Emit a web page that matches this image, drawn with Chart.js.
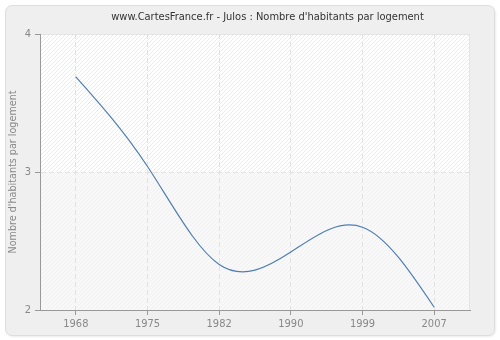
<!DOCTYPE html>
<html><head><meta charset="utf-8">
<script src="https://cdn.jsdelivr.net/npm/chart.js@4"></script>
<style>
html,body{margin:0;padding:0;background:#fff;width:500px;height:340px;overflow:hidden}
#panel{position:absolute;left:5px;top:5px;width:488px;height:329px;background:#efefef;border:1px solid #dedede;border-radius:7px;box-shadow:1px 1px 2px rgba(0,0,0,0.08)}
#wrap{position:absolute;left:0;top:0;width:500px;height:340px}
</style></head>
<body><div id="panel"></div><div id="wrap"><canvas id="c" width="500" height="340"></canvas></div>
<script>
const titleText = "www.CartesFrance.fr - Julos : Nombre d'habitants par logement";
const yAxisTitle = "Nombre d'habitants par logement";
const years = ["1968","1975","1982","1990","1999","2007"];
const values = [3.69, 3.04, 2.33, 2.42, 2.60, 2.02];
const yTicks = [2, 3, 4];
const FONT = '"DejaVu Sans Condensed", "DejaVu Sans", sans-serif';

function makePattern(bg, line){
  const p = document.createElement('canvas'); p.width = 4; p.height = 4;
  const g = p.getContext('2d');
  g.fillStyle = bg; g.fillRect(0,0,4,4);
  g.fillStyle = line;
  for(let i=0;i<4;i++){ g.fillRect(i, 3-i, 1, 1); }
  return g.createPattern(p, 'repeat');
}

// Natural cubic spline control points for the library's line element
const splinePlugin = {
  id:'naturalSpline',
  beforeDatasetsDraw(chart){
    chart.data.datasets.forEach((ds, di) => {
      const meta = chart.getDatasetMeta(di);
      const line = meta.dataset;
      if (!line) return;
      line.updateControlPoints(chart.chartArea, 'x');
      const pts = meta.data;
      const n = pts.length - 1;
      if (n < 2) return;
      const x = pts.map(p => p.x), y = pts.map(p => p.y);
      const h = []; for (let i=0;i<n;i++) h.push(x[i+1]-x[i]);
      const a=[], b=[], c=[], d=[];
      for (let i=1;i<n;i++){
        a.push(h[i-1]); b.push(2*(h[i-1]+h[i])); c.push(h[i]);
        d.push(6*((y[i+1]-y[i])/h[i] - (y[i]-y[i-1])/h[i-1]));
      }
      const m = a.length;
      for (let i=1;i<m;i++){ const w=a[i]/b[i-1]; b[i]-=w*c[i-1]; d[i]-=w*d[i-1]; }
      const Mi = new Array(m);
      Mi[m-1] = d[m-1]/b[m-1];
      for (let i=m-2;i>=0;i--) Mi[i] = (d[i]-c[i]*Mi[i+1])/b[i];
      const M = [0, ...Mi, 0];
      for (let i=0;i<n;i++){
        const s = (y[i+1]-y[i])/h[i];
        const d0 = s - h[i]*(2*M[i]+M[i+1])/6;
        const d1 = s + h[i]*(M[i]+2*M[i+1])/6;
        pts[i].cp2x = x[i] + h[i]/3; pts[i].cp2y = y[i] + d0*h[i]/3;
        pts[i+1].cp1x = x[i+1] - h[i]/3; pts[i+1].cp1y = y[i+1] - d1*h[i]/3;
      }
      line._path = undefined;
    });
  }
};

const bgPlugin = {
  id:'bg',
  beforeDraw(chart){
    const {ctx, chartArea:a, scales:{y}} = chart;
    const mid = y.getPixelForValue(3);
    ctx.save();
    ctx.fillStyle = makePattern('#ffffff', '#ececec');
    ctx.fillRect(a.left, a.top, a.right-a.left, mid-a.top);
    ctx.fillStyle = makePattern('#f8f8f8', '#f1f1f1');
    ctx.fillRect(a.left, mid, a.right-a.left, a.bottom-mid);
    ctx.strokeStyle = '#e4e4e4'; ctx.lineWidth = 1;
    ctx.beginPath();
    ctx.moveTo(a.left, a.top+0.5); ctx.lineTo(a.right-0.5, a.top+0.5); ctx.lineTo(a.right-0.5, a.bottom);
    ctx.stroke();
    ctx.restore();
  },
  afterDraw(chart){
    const ctx = chart.ctx;
    ctx.save();
    ctx.font = '11px ' + FONT;
    ctx.fillStyle = '#333';
    ctx.textAlign = 'center'; ctx.textBaseline = 'middle';
    ctx.fillText(titleText, 267.5, 17.5);
    ctx.restore();
  }
};

new Chart(document.getElementById('c'), {
  type:'line',
  data:{labels:years, datasets:[{data:values, borderColor:'#4f7fb3', borderWidth:1.2, pointRadius:0, tension:0.4, fill:false}]},
  options:{
    responsive:false, animation:false,
    layout:{padding:{top:34, right:30, left:0, bottom:0}},
    plugins:{legend:{display:false}, tooltip:{enabled:false}, title:{display:false}},
    scales:{
      x:{type:'category', offset:true,
        afterFit(s){ s.height = 30; },
        grid:{color:'#e2e2e2', tickLength:5, tickColor:'#999', tickBorderDash:[]},
        border:{color:'#999', width:1, dash:[5,3]},
        ticks:{color:'#888', font:{size:11, family:FONT}, padding:3, maxRotation:0}
      },
      y:{min:2, max:4,
        afterFit(s){ s.width = 40; },
        afterBuildTicks(s){ s.ticks = yTicks.map(v=>({value:v})); },
        grid:{color:(c)=> (c.tick && c.tick.value===3) ? '#e2e2e2' : 'rgba(0,0,0,0)', tickLength:5, tickColor:'#999', tickBorderDash:[]},
        border:{color:'#999', width:1, dash:[5,3]},
        ticks:{color:'#888', font:{size:11, family:FONT}, padding:4},
        title:{display:true, text:yAxisTitle, color:'#888', font:{size:10.7, family:FONT}, padding:{top:7,bottom:0}}
      }
    }
  },
  plugins:[bgPlugin, splinePlugin]
});
</script></body></html>
